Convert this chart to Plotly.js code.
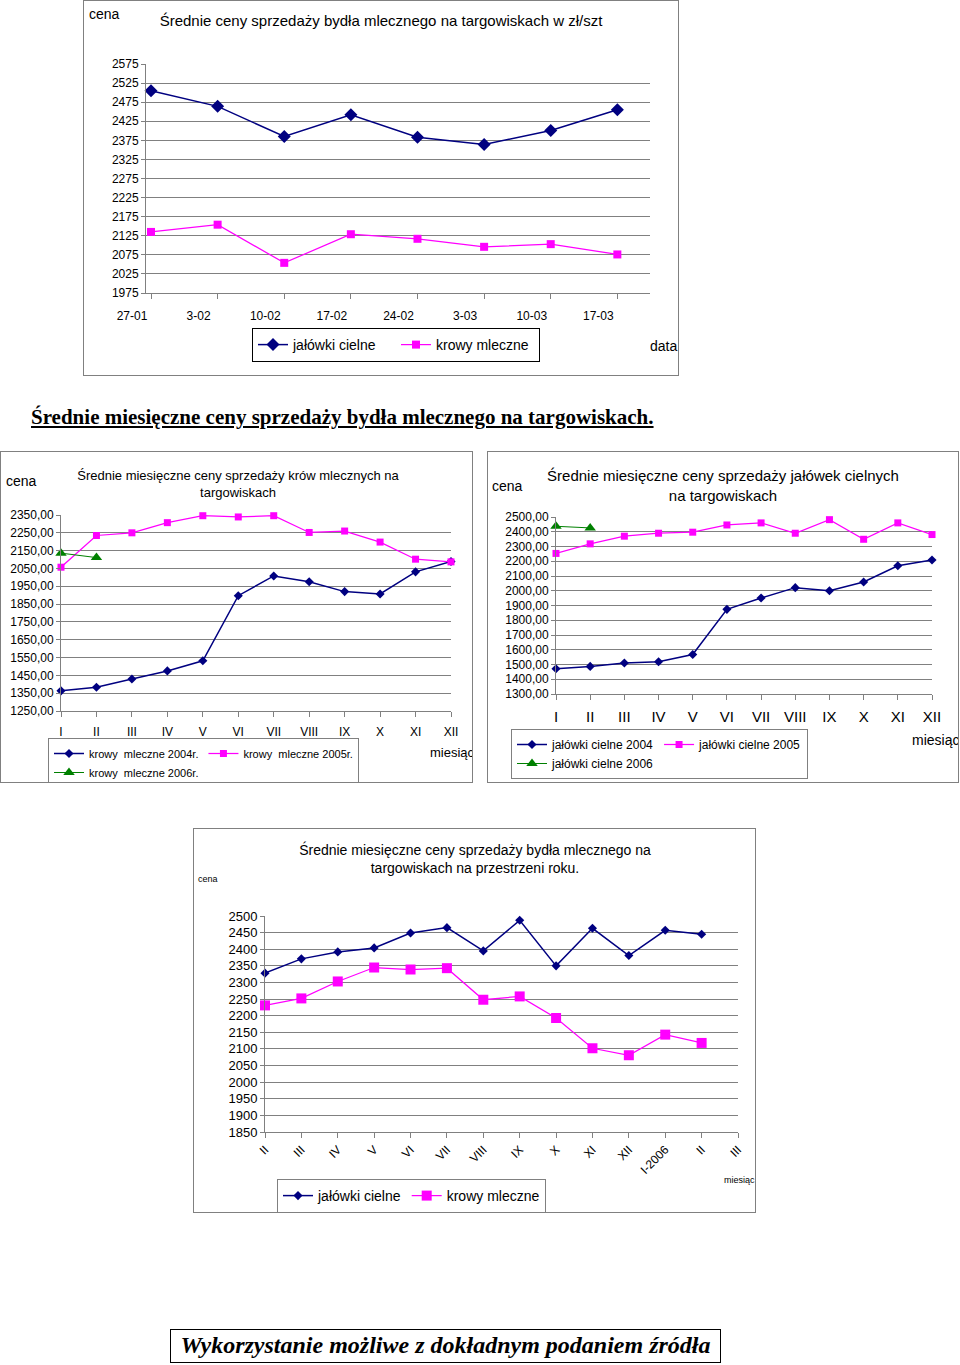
<!DOCTYPE html>
<html><head><meta charset="utf-8">
<script src="https://cdn.plot.ly/plotly-3.0.1.min.js"></script>
<style>
body{margin:0;width:960px;height:1365px;background:#fff;position:relative;overflow:hidden;font-family:"Liberation Sans",Arial,sans-serif}
.plot{position:absolute}
.frame{position:absolute;box-sizing:border-box;border:1px solid #808080;pointer-events:none}
#heading{position:absolute;left:31px;top:405px;font-family:"Liberation Serif","Times New Roman",serif;font-weight:bold;font-size:21px;text-decoration:underline;white-space:nowrap}
#footer{position:absolute;left:170px;top:1329px;width:551px;height:34px;box-sizing:border-box;border:1.5px solid #000;font-family:"Liberation Serif","Times New Roman",serif;font-weight:bold;font-style:italic;font-size:24px;line-height:31px;text-align:center;white-space:nowrap}
</style></head>
<body>
<div id="c1" class="plot" style="left:83px;top:0px"></div><div class="frame" style="left:83px;top:0px;width:596px;height:376px"></div>
<div id="heading">Średnie miesięczne ceny sprzedaży bydła mlecznego na targowiskach.</div>
<div id="c2" class="plot" style="left:0px;top:451px"></div><div class="frame" style="left:0px;top:451px;width:473px;height:332px"></div>
<div id="c3" class="plot" style="left:487px;top:451px"></div><div class="frame" style="left:487px;top:451px;width:472px;height:332px"></div>
<div id="c4" class="plot" style="left:193px;top:828px"></div><div class="frame" style="left:193px;top:828px;width:563px;height:385px"></div>
<div id="footer">Wykorzystanie możliwe z dokładnym podaniem źródła</div>
<script>
// ---------- DATA ----------
// Chart 1: weekly prices
const weeks = ["27-01","3-02","10-02","17-02","24-02","3-03","10-03","17-03"];
const weeklyJalowki = [2505,2464,2385,2442,2383,2364,2401,2455];
const weeklyKrowy   = [2135,2154,2054,2129,2117,2096,2103,2076];

// Chart 2: monthly cows
const monthsRoman = ["I","II","III","IV","V","VI","VII","VIII","IX","X","XI","XII"];
const krowy2004 = [1363,1383,1430,1475,1532,1897,2008,1975,1920,1907,2031,2089];
const krowy2005 = [2057,2235,2250,2307,2346,2339,2346,2252,2260,2198,2102,2087];
const krowy2006 = [2136,2111];

// Chart 3: monthly heifers
const monthsRoman3 = ["I","II","III","IV","V","VI","VII","VIII","IX","X","XI","XII"];
const jalowki2004 = [1471,1487,1510,1519,1568,1874,1951,2021,2000,2059,2169,2208];
const jalowki2005 = [2253,2318,2370,2390,2397,2446,2460,2390,2482,2349,2460,2381];
const jalowki2006 = [2437,2426];

// Chart 4: over a year
const yearMonths = ["II","III","IV","V","VI","VII","VIII","IX","X","XI","XII","I-2006","II","III"];
const yearJalowki = [2328,2371,2392,2404,2449,2465,2395,2487,2350,2463,2381,2457,2445];
const yearKrowy   = [2231,2252,2303,2345,2339,2343,2248,2258,2193,2102,2081,2143,2118];

// ---------- STYLE ----------
const NAVY="#000080", MAG="#FF00FF", GREEN="#008000", GRID="#808080";
const FONT="Liberation Sans, Arial, sans-serif";
const cfg={displayModeBar:false,staticPlot:true};

function paper(m,W,H,x,y){const w=W-m.l-m.r,h=H-m.t-m.b;return {x:(x-m.l)/w,y:1-(y-m.t)/h};}
function note(m,W,H,x,y,text,size,xanchor){const p=paper(m,W,H,x,y);
  return {xref:"paper",yref:"paper",x:p.x,y:p.y,text:text,showarrow:false,xanchor:xanchor||"left",yanchor:"middle",font:{family:FONT,size:size,color:"#000"}};}
function yaxis(r,dt,size,fmt){return {range:r,tick0:r[0],dtick:dt,showgrid:true,gridcolor:GRID,gridwidth:1,zeroline:false,
  showline:true,linecolor:GRID,ticks:"outside",ticklen:4,tickcolor:GRID,tickfont:{family:FONT,size:size,color:"#000"},tickformat:fmt||"d",fixedrange:true};}

// ---------- CHART 1 ----------
(function(){
  const W=596,H=376,m={l:63,r:29,t:64,b:83};
  const traces=[
    {x:weeks,y:weeklyJalowki,name:"jałówki cielne",type:"scatter",mode:"lines+markers",line:{color:NAVY,width:1.5},marker:{symbol:"diamond",size:10,color:NAVY},cliponaxis:false},
    {x:weeks,y:weeklyKrowy,name:"krowy mleczne",type:"scatter",mode:"lines+markers",line:{color:MAG,width:1.25},marker:{symbol:"square",size:8,color:MAG},cliponaxis:false}
  ];
  const layout={width:W,height:H,margin:m,paper_bgcolor:"rgba(0,0,0,0)",plot_bgcolor:"rgba(0,0,0,0)",font:{family:FONT,color:"#000"},
    title:{text:"Średnie ceny sprzedaży bydła mlecznego na targowiskach w zł/szt",font:{family:FONT,size:15,color:"#000"},x:(381-83)/W,xanchor:"center",xref:"container",y:1-21/H,yanchor:"middle",yref:"container"},
    xaxis:{type:"category",range:[-0.075,7.49],showgrid:false,showline:true,linecolor:GRID,ticks:"outside",ticklen:5,tickcolor:GRID,tickfont:{size:12,family:FONT,color:"#000"},ticklabelshift:-19,ticklabelstandoff:7,fixedrange:true},
    yaxis:yaxis([1975,2575],50,12),
    showlegend:true,
    legend:{orientation:"h",xref:"container",yref:"container",x:(252-83)/W,y:1-328/H,xanchor:"left",yanchor:"top",bordercolor:"#000",borderwidth:1,bgcolor:"#fff",font:{family:FONT,size:14,color:"#000"},entrywidth:98},
    annotations:[note(m,W,H,4,14,"cena",14),note(m,W,H,565,346,"data",14)]
  };
  Plotly.newPlot("c1",traces,layout,cfg);
})();

// ---------- CHART 2 ----------
(function(){
  const W=473,H=332,m={l:61,r:22,t:64,b:72};
  const traces=[
    {x:monthsRoman,y:krowy2004,name:"krowy  mleczne 2004r.",type:"scatter",mode:"lines+markers",line:{color:NAVY,width:1.5},marker:{symbol:"diamond",size:7,color:NAVY},cliponaxis:false},
    {x:monthsRoman,y:krowy2005,name:"krowy  mleczne 2005r.",type:"scatter",mode:"lines+markers",line:{color:MAG,width:1.25},marker:{symbol:"square",size:7,color:MAG},cliponaxis:false},
    {x:monthsRoman.slice(0,krowy2006.length),y:krowy2006,name:"krowy  mleczne 2006r.",type:"scatter",mode:"lines+markers",line:{color:GREEN,width:1},marker:{symbol:"triangle-up",size:10,color:GREEN},cliponaxis:false}
  ];
  const layout={width:W,height:H,margin:m,paper_bgcolor:"rgba(0,0,0,0)",plot_bgcolor:"rgba(0,0,0,0)",font:{family:FONT,color:"#000"},
    title:{text:"Średnie miesięczne ceny sprzedaży krów mlecznych na<br>targowiskach",font:{family:FONT,size:13,color:"#000"},x:238/W,xanchor:"center",xref:"container",y:1-29/H,yanchor:"middle",yref:"container"},
    xaxis:{type:"category",range:[0,11],showgrid:false,showline:true,linecolor:GRID,ticks:"outside",ticklen:5,tickcolor:GRID,tickfont:{size:12,family:FONT,color:"#000"},ticklabelstandoff:5,fixedrange:true},
    yaxis:yaxis([1250,2350],100,12,".2f"),
    separators:", ",
    showlegend:true,
    legend:{orientation:"h",xref:"container",yref:"container",x:48/W,y:1-(738-451)/H,xanchor:"left",yanchor:"top",bordercolor:"#808080",borderwidth:1,bgcolor:"#fff",font:{family:FONT,size:11,color:"#000"},itemwidth:30},
    annotations:[note(m,W,H,4,481-451,"cena",14),note(m,W,H,428,752-451,"miesiąc",13)]
  };
  Plotly.newPlot("c2",traces,layout,cfg);
})();

// ---------- CHART 3 ----------
(function(){
  const W=472,H=332,m={l:69,r:27,t:66,b:89};
  const traces=[
    {x:monthsRoman3,y:jalowki2004,name:"jałówki cielne 2004",type:"scatter",mode:"lines+markers",line:{color:NAVY,width:1.5},marker:{symbol:"diamond",size:7,color:NAVY},cliponaxis:false},
    {x:monthsRoman3,y:jalowki2005,name:"jałówki cielne 2005",type:"scatter",mode:"lines+markers",line:{color:MAG,width:1.25},marker:{symbol:"square",size:7,color:MAG},cliponaxis:false},
    {x:monthsRoman3.slice(0,jalowki2006.length),y:jalowki2006,name:"jałówki cielne 2006",type:"scatter",mode:"lines+markers",line:{color:GREEN,width:1},marker:{symbol:"triangle-up",size:10,color:GREEN},cliponaxis:false}
  ];
  const layout={width:W,height:H,margin:m,paper_bgcolor:"rgba(0,0,0,0)",plot_bgcolor:"rgba(0,0,0,0)",font:{family:FONT,color:"#000"},
    title:{text:"Średnie miesięczne ceny sprzedaży jałówek cielnych<br>na targowiskach",font:{family:FONT,size:15,color:"#000"},x:(723-487)/W,xanchor:"center",xref:"container",y:1-30/H,yanchor:"middle",yref:"container"},
    xaxis:{type:"category",range:[0,11],showgrid:false,showline:true,linecolor:GRID,ticks:"outside",ticklen:5,tickcolor:GRID,tickfont:{size:15,family:FONT,color:"#000"},ticklabelstandoff:4,fixedrange:true},
    yaxis:yaxis([1300,2500],100,12,".2f"),
    separators:", ",
    showlegend:true,
    legend:{orientation:"h",xref:"container",yref:"container",x:(511-487)/W,y:1-(729-451)/H,xanchor:"left",yanchor:"top",bordercolor:"#808080",borderwidth:1,bgcolor:"#fff",font:{family:FONT,size:12,color:"#000"},itemwidth:30},
    annotations:[note(m,W,H,3,486-451,"cena",14),note(m,W,H,423,740-451,"miesiąc",14)]
  };
  Plotly.newPlot("c3",traces,layout,cfg);
})();

// ---------- CHART 4 ----------
(function(){
  const W=563,H=385,m={l:72,r:18,t:88,b:81};
  const idxJ=yearJalowki.map((_,i)=>i), idxK=yearKrowy.map((_,i)=>i);
  const traces=[
    {x:idxJ,y:yearJalowki,name:"jałówki cielne",type:"scatter",mode:"lines+markers",line:{color:NAVY,width:1.5},marker:{symbol:"diamond",size:7,color:NAVY},cliponaxis:false},
    {x:idxK,y:yearKrowy,name:"krowy mleczne",type:"scatter",mode:"lines+markers",line:{color:MAG,width:1.25},marker:{symbol:"square",size:10,color:MAG},cliponaxis:false}
  ];
  const layout={width:W,height:H,margin:m,paper_bgcolor:"rgba(0,0,0,0)",plot_bgcolor:"rgba(0,0,0,0)",font:{family:FONT,color:"#000"},
    title:{text:"Średnie miesięczne ceny sprzedaży bydła mlecznego na<br>targowiskach na przestrzeni roku.",font:{family:FONT,size:14,color:"#000"},x:(475-193)/W,xanchor:"center",xref:"container",y:1-27/H,yanchor:"middle",yref:"container"},
    xaxis:{type:"linear",range:[0,yearMonths.length-1],tickvals:yearMonths.map((_,i)=>i),ticktext:yearMonths,tickangle:-45,showgrid:false,zeroline:false,showline:true,linecolor:GRID,ticks:"outside",ticklen:5,tickcolor:GRID,tickfont:{size:12,family:FONT,color:"#000"},fixedrange:true},
    yaxis:yaxis([1850,2500],50,13),
    showlegend:true,
    legend:{orientation:"h",xref:"container",yref:"container",x:(277-193)/W,y:1-(1179-828)/H,xanchor:"left",yanchor:"top",bordercolor:"#808080",borderwidth:1,bgcolor:"#fff",font:{family:FONT,size:14,color:"#000"}},
    annotations:[note(m,W,H,3,879-828,"cena",9),note(m,W,H,529,1180-828,"miesiąc",9)]
  };
  Plotly.newPlot("c4",traces,layout,cfg);
})();
</script>
</body></html>
